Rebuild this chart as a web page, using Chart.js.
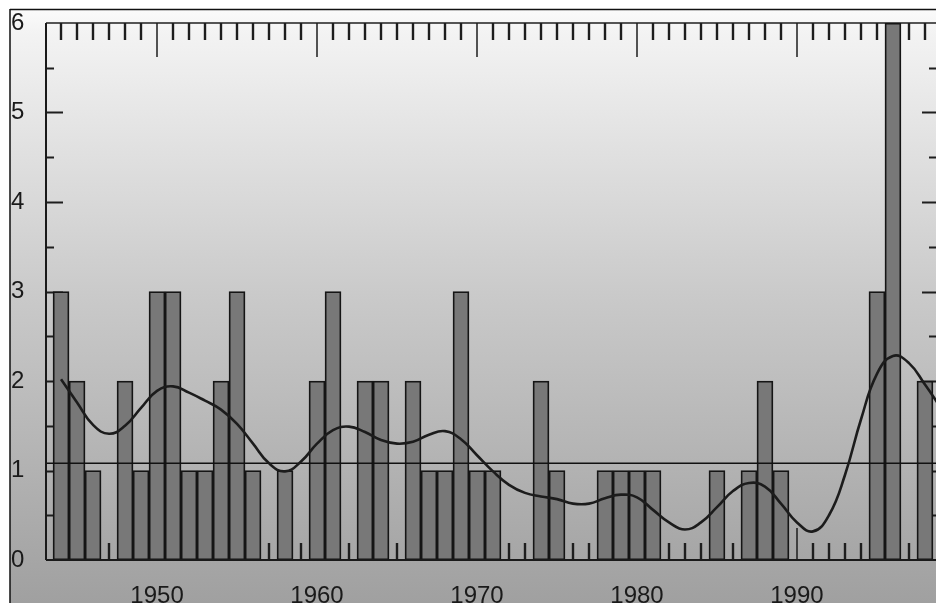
<!DOCTYPE html>
<html><head><meta charset="utf-8">
<script src="https://cdn.jsdelivr.net/npm/chart.js@4"></script>
<style>html,body{margin:0;padding:0;background:#fff;}#wrap{width:936px;height:603px;position:relative;}</style>
</head><body><div id="wrap"><canvas id="c" width="936" height="603"></canvas></div>
<script>
const years = [1944,1945,1946,1947,1948,1949,1950,1951,1952,1953,1954,1955,1956,1957,1958,1959,1960,1961,1962,1963,1964,1965,1966,1967,1968,1969,1970,1971,1972,1973,1974,1975,1976,1977,1978,1979,1980,1981,1982,1983,1984,1985,1986,1987,1988,1989,1990,1991,1992,1993,1994,1995,1996,1997,1998];
const counts = [3,2,1,0,2,1,3,3,1,1,2,3,1,0,1,0,2,3,0,2,2,0,2,1,1,3,1,1,0,0,2,1,0,0,1,1,1,1,0,0,0,1,0,1,2,1,0,0,0,0,0,3,6,0,2];
const smoothYears = [1944,1945,1946,1947,1948,1949,1950,1951,1952,1953,1954,1955,1956,1957,1958,1959,1960,1961,1962,1963,1964,1965,1966,1967,1968,1969,1970,1971,1972,1973,1974,1975,1976,1977,1978,1979,1980,1981,1982,1983,1984,1985,1986,1987,1988,1989,1990,1991,1992,1993,1994,1995,1996,1997,1998,1999];
const smoothValues = [2.02,1.76,1.51,1.41,1.50,1.70,1.89,1.94,1.87,1.78,1.68,1.52,1.30,1.08,0.99,1.10,1.30,1.45,1.49,1.43,1.34,1.30,1.32,1.40,1.44,1.35,1.17,0.99,0.84,0.75,0.71,0.68,0.63,0.63,0.69,0.73,0.70,0.56,0.42,0.34,0.42,0.59,0.77,0.86,0.82,0.63,0.42,0.32,0.50,0.95,1.57,2.08,2.28,2.20,1.96,1.70];
const meanLevel = 1.08;
const xTickLabels = [1950,1960,1970,1980,1990];
const yTickLabels = [0,1,2,3,4,5,6];
const xMin = 1943.06, xMax = 1998.69;

const bgPlugin = {
  id: 'bg',
  beforeDraw(chart) {
    const ctx = chart.ctx, W = chart.width, H = chart.height;
    ctx.save();
    ctx.fillStyle = '#ffffff';
    ctx.fillRect(0, 0, W, H);
    const g = ctx.createLinearGradient(0, 9, 0, H);
    g.addColorStop(0, '#fbfbfb');
    g.addColorStop(0.04, '#f3f3f3');
    g.addColorStop(0.5, '#c8c8c8');
    g.addColorStop(1, '#a0a0a0');
    ctx.fillStyle = g;
    ctx.fillRect(10, 9, W - 10, H - 9);
    ctx.strokeStyle = '#111';
    ctx.lineWidth = 1.5;
    ctx.beginPath();
    ctx.moveTo(10, 9.5); ctx.lineTo(W, 9.5);
    ctx.moveTo(10, 9); ctx.lineTo(10, H);
    ctx.stroke();
    ctx.restore();
  }
};

const tickPlugin = {
  id: 'ticks',
  beforeDatasetsDraw(chart) {
    const ctx = chart.ctx, a = chart.chartArea;
    const xs = chart.scales.x, ys = chart.scales.y;
    ctx.save();
    ctx.lineWidth = 2;
    ctx.strokeStyle = '#555';
    ctx.beginPath(); ctx.moveTo(a.left, a.top); ctx.lineTo(a.right, a.top); ctx.stroke();
    ctx.strokeStyle = '#1e1e1e';
    years.forEach(yr => {
      const px = Math.round(xs.getPixelForValue(yr));
      const major = yr % 10 === 0;
      ctx.lineWidth = major ? 1.5 : 2.4;
      const len = major ? 34 : 17;
      ctx.beginPath();
      ctx.moveTo(px, a.top); ctx.lineTo(px, a.top + len);
      ctx.moveTo(px, a.bottom); ctx.lineTo(px, a.bottom - (major ? 32 : 17));
      ctx.stroke();
    });
    for (let v = 0.5; v < 6; v += 0.5) {
      const py = Math.round(ys.getPixelForValue(v)) + 0.5;
      const major = Number.isInteger(v);
      ctx.lineWidth = 2.2;
      ctx.beginPath();
      ctx.moveTo(a.left, py); ctx.lineTo(a.left + (major ? 17 : 8), py);
      ctx.moveTo(a.right, py); ctx.lineTo(a.right - (major ? 14 : 7), py);
      ctx.stroke();
    }
    ctx.restore();
  },
  afterDatasetsDraw(chart) {
    const ctx = chart.ctx, a = chart.chartArea;
    ctx.save();
    ctx.strokeStyle = '#1a1a1a';
    ctx.lineWidth = 2;
    ctx.beginPath();
    ctx.moveTo(a.left, a.top); ctx.lineTo(a.left, a.bottom);
    ctx.moveTo(a.left, a.bottom); ctx.lineTo(a.right, a.bottom);
    ctx.stroke();
    ctx.restore();
  }
};

new Chart(document.getElementById('c'), {
  data: {
    datasets: [
      {
        type: 'line',
        data: smoothYears.map((y, i) => ({x: y, y: smoothValues[i]})),
        borderColor: '#1c1c1c',
        borderWidth: 2.6,
        pointRadius: 0,
        tension: 0.45,
        fill: false,
        order: 1
      },
      {
        type: 'line',
        data: [{x: xMin, y: meanLevel}, {x: xMax, y: meanLevel}],
        borderColor: '#111',
        borderWidth: 1.5,
        pointRadius: 0,
        fill: false,
        order: 2
      },
      {
        type: 'bar',
        data: years.map((y, i) => ({x: y, y: counts[i] > 0 ? counts[i] : null})),
        backgroundColor: '#787878',
        borderColor: '#151515',
        borderWidth: 1.8,
        borderSkipped: false,
        barPercentage: 1,
        categoryPercentage: 1,
        order: 3
      }
    ]
  },
  options: {
    responsive: false,
    animation: false,
    layout: {padding: {left: 11, top: 23, right: 0, bottom: 0}},
    plugins: {legend: {display: false}, tooltip: {enabled: false}},
    scales: {
      x: {
        type: 'linear',
        min: xMin, max: xMax,
        offset: false,
        grid: {display: false, drawTicks: false, offset: false},
        border: {display: false},
        afterBuildTicks: s => { s.ticks = xTickLabels.map(v => ({value: v})); },
        afterFit: s => { s.height = 43; },
        ticks: {
          font: {family: 'Liberation Sans', size: 24},
          color: '#1a1a1a',
          padding: 22,
          maxRotation: 0,
          autoSkip: false,
          callback: v => String(v)
        }
      },
      y: {
        type: 'linear',
        min: 0, max: 6,
        grid: {display: false, drawTicks: false},
        border: {display: false},
        afterBuildTicks: s => { s.ticks = yTickLabels.map(v => ({value: v})); },
        afterFit: s => { s.width = 35; },
        ticks: {
          font: {family: 'Liberation Sans', size: 24},
          color: '#1a1a1a',
          crossAlign: 'far',
          padding: 0,
          callback: v => String(v)
        }
      }
    }
  },
  plugins: [bgPlugin, tickPlugin]
});
</script>
</body></html>
